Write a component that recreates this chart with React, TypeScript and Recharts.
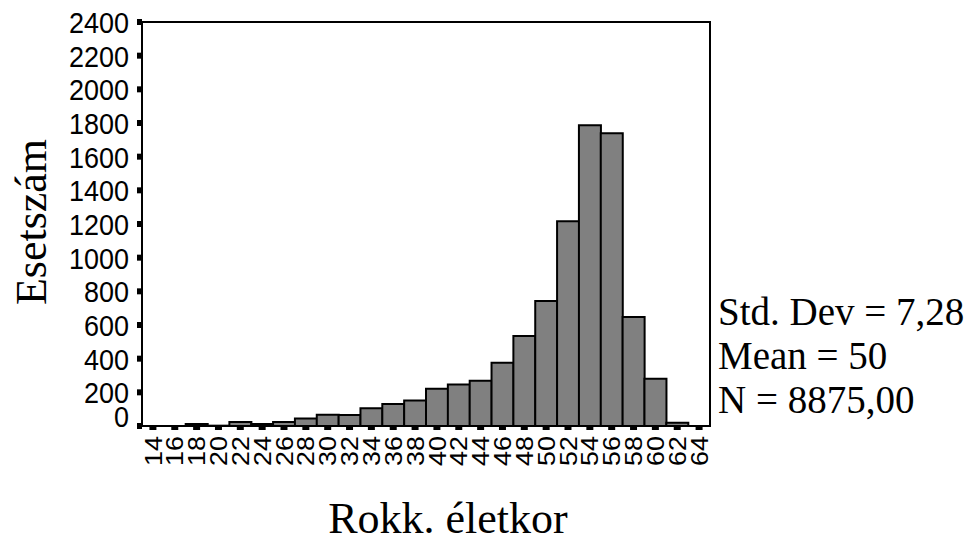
import { BarChart, Bar, XAxis, YAxis, Label, ReferenceArea } from "recharts"

const ages = ["14", "16", "18", "20", "22", "24", "26", "28", "30", "32", "34", "36", "38", "40", "42", "44", "46", "48", "50", "52", "54", "56", "58", "60", "62", "64"]
const counts = [0, 0, 12, 2, 24, 12, 24, 45, 67, 65, 105, 130, 152, 222, 247, 269, 376, 535, 742, 1217, 1786, 1739, 647, 281, 20, 0]
const yTicks = [0, 200, 400, 600, 800, 1000, 1200, 1400, 1600, 1800, 2000, 2200, 2400]
const stats = ["Std. Dev = 7,28", "Mean = 50", "N = 8875,00"]

const data = ages.map((age, i) => ({ age, count: counts[i] }))

const sans = "'Liberation Sans', Arial, sans-serif"
const serif = "'Liberation Serif', 'Times New Roman', serif"

// rotated age labels, slightly stretched along the text like the original export
const XTick = ({ x, y, payload }: any) => (
  <g transform={`translate(${x},${y + 4})`}>
    <text
      transform="rotate(-90) scale(1.12,1)"
      textAnchor="end"
      dy="0.36em"
      fontSize={24}
      fontFamily={sans}
      fill="#000"
    >
      {payload.value}
    </text>
  </g>
)

// count labels are a bit taller than normal, "0" sits above its tick
const YTick = ({ x, y, payload }: any) => (
  <g transform={`translate(${x},${payload.value === 0 ? y - 10 : y})`}>
    <text
      transform="scale(1,1.12)"
      dy="0.36em"
      textAnchor="end"
      fontSize={27}
      fontFamily={sans}
      fill="#000"
    >
      {payload.value}
    </text>
  </g>
)

export default function App() {
  return (
    <div style={{ position: "absolute", left: 0, top: 0, width: 972, height: 542, background: "#fff" }}>
      <BarChart
        width={972}
        height={542}
        data={data}
        barCategoryGap={0}
        margin={{ top: 22, right: 262, left: 0, bottom: 0 }}
      >
        <XAxis
          dataKey="age"
          interval={0}
          height={116}
          tick={<XTick />}
          tickSize={4}
          tickMargin={2}
          axisLine={{ stroke: "#000", strokeWidth: 2 }}
          tickLine={{ stroke: "#000", strokeWidth: 7 }}
        >
          <Label
            content={() => (
              <text x={448} y={533} textAnchor="middle" fontSize={44} fontFamily={serif} fill="#000">
                Rokk. életkor
              </text>
            )}
          />
        </XAxis>
        <YAxis
          width={142}
          domain={[0, 2400]}
          ticks={yTicks}
          interval={0}
          tick={<YTick />}
          tickSize={5}
          tickMargin={8}
          axisLine={{ stroke: "#000", strokeWidth: 2 }}
          tickLine={{ stroke: "#000", strokeWidth: 6 }}
        >
          <Label
            content={() => (
              <text
                transform="translate(46,222) rotate(-90)"
                textAnchor="middle"
                fontSize={44}
                fontFamily={serif}
                fill="#000"
              >
                Esetszám
              </text>
            )}
          />
        </YAxis>
        <ReferenceArea
          x1={ages[0]}
          x2={ages[ages.length - 1]}
          y1={0}
          y2={2400}
          fill="none"
          fillOpacity={0}
          stroke="#000"
          strokeWidth={2}
          strokeOpacity={1}
        />
        <Bar
          dataKey="count"
          fill="#808080"
          stroke="#000"
          strokeWidth={2}
          isAnimationActive={false}
        />
      </BarChart>
      {stats.map((s, i) => (
        <div
          key={s}
          style={{
            position: "absolute",
            left: 718,
            top: 290 + i * 44,
            fontFamily: serif,
            fontSize: 39,
            lineHeight: "44px",
            whiteSpace: "nowrap",
            color: "#000",
          }}
        >
          {s}
        </div>
      ))}
    </div>
  )
}
